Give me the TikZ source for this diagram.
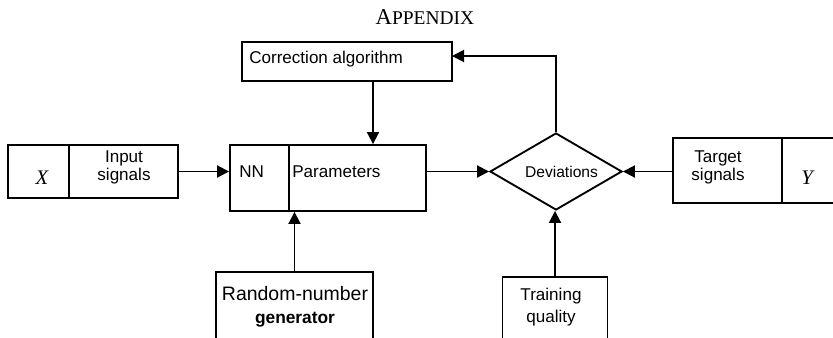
\documentclass[tikz,border=0pt]{standalone}
\usepackage{fontspec}
\setmainfont{Liberation Sans}
\newfontfamily\timesfont{Liberation Serif}
\usetikzlibrary{arrows.meta,shapes.geometric}

\begin{document}
\begin{tikzpicture}[x=0.75pt, y=-0.75pt,
		box/.style={draw, rectangle, line width=1.4pt, inner sep=0pt},
		lbl/.style={inner sep=0pt, align=center, font=\fontsize{12.8}{13.5}\selectfont},
		var/.style={inner sep=0pt, font=\timesfont\itshape\fontsize{15.5}{18}\selectfont},
		flow/.style={line width=1.4pt, -{Triangle[length=9pt,width=9pt]}}]
	\useasboundingbox (0,0) rectangle (833,337);
	\clip (0,0) rectangle (833,337);
	
	% Title
	\node[anchor=base, inner sep=0pt] (title) at (425,24)
		{\timesfont\fontsize{17}{20}\selectfont A\fontsize{14.6}{18}\selectfont PPENDIX};
	
	% Input block
	\node[box, minimum width=45.75pt, minimum height=39.75pt] (xbox) at (38.5,171.5) {};
	\node[box, minimum width=81.75pt, minimum height=39.75pt] (inbox) at (123.5,171.5) {};
	\node[var] (xlbl) at (42,178) {X};
	\node[lbl] (inlbl) at (124,167) {Input\\signals};
	
	% Network block
	\node[box, minimum width=44.25pt, minimum height=49.5pt] (nnbox) at (259.5,178) {};
	\node[box, minimum width=102.75pt, minimum height=49.5pt] (parbox) at (357.5,178) {};
	\node[lbl, anchor=west] (nnlbl) at (239,171.5) {NN};
	\node[lbl, anchor=west] (parlbl) at (292,171.5) {Parameters};
	
	% Correction algorithm
	\node[box, minimum width=157.5pt, minimum height=29.25pt] (corr) at (347,61.5) {};
	\node[lbl, anchor=base west] (corrlbl) at (249,63) {Correction algorithm};
	
	% Deviations
	\node[draw, diamond, line width=1.4pt, inner sep=0pt, minimum width=99pt, minimum height=57.75pt] (dev) at (556,171.5) {};
	\node[lbl, font=\fontsize{11.7}{13}\selectfont] (devlbl) at (561.5,171.5) {Deviations};
	
	% Target block
	\node[box, minimum width=81.75pt, minimum height=48.75pt] (tgt) at (727.5,170.5) {};
	\node[box, minimum width=88.5pt, minimum height=48.75pt] (ybox) at (841,170.5) {};
	\node[lbl] (tgtlbl) at (718,167) {Target\\signals};
	\node[var] (ylbl) at (807,178) {Y};
	
	% Bottom blocks
	\node[box, minimum width=117.75pt, minimum height=66pt] (rng) at (294.5,316) {};
	\node[lbl, font=\fontsize{13}{17.5}\selectfont] (rnglbl) at (295,307)
		{{\fontsize{14.6}{17.5}\selectfont Random-number}\\\bfseries generator};
	\node[box, minimum width=78.75pt, minimum height=62.25pt] (tq) at (555,318.5) {};
	\node[lbl, font=\fontsize{12.8}{17}\selectfont] (tqlbl) at (551,307) {Training\\quality};
	
	% Connectors
	\coordinate (fbin) at (452,56);
	\coordinate (corrout) at (373,81);
	\draw[flow] (inbox.east) -- (inbox.east -| nnbox.west);
	\draw[flow] (dev.west -| parbox.east) -- (dev.west);
	\draw[flow] (dev.east -| tgt.west) -- (dev.east);
	\draw[flow] (dev.north) |- (fbin);
	\draw[flow] (corrout) -- (corrout |- parbox.north);
	\draw[flow] (rng.north) -- (rng.north |- nnbox.south);
	\draw[flow] (tq.north) -- (tq.north |- dev.south);
	
\end{tikzpicture}
\end{document}
